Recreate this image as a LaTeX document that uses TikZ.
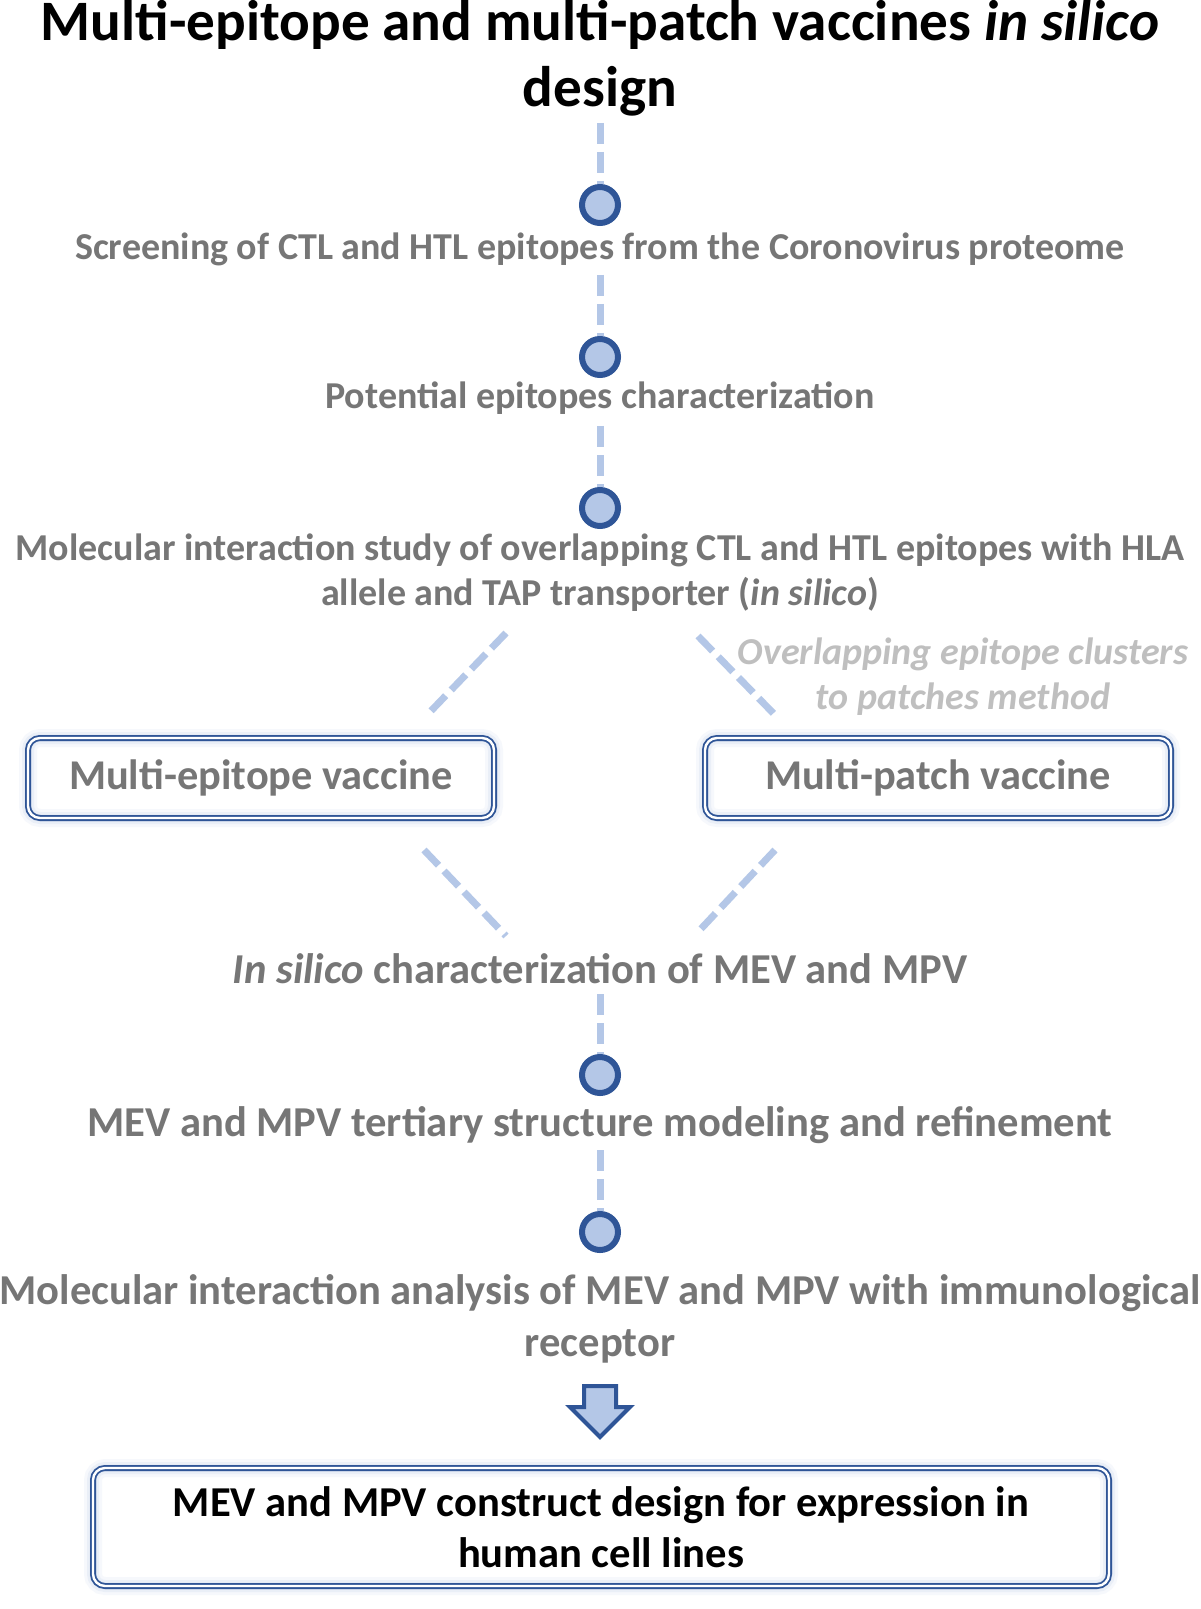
\documentclass[tikz,border=0pt]{standalone}
\usepackage{fontspec}
\setmainfont{Carlito}
\usetikzlibrary{calc}
\definecolor{dblue}{HTML}{2F5597}
\definecolor{lblue}{HTML}{B4C7E7}
\definecolor{tgray}{HTML}{767676}
\definecolor{lgray}{HTML}{BFBFBF}
\definecolor{glowc}{HTML}{C9D5EC}
\begin{document}
\begin{tikzpicture}[x=0.5pt,y=-0.5pt,
  txt/.style={text=tgray,font=\bfseries,inner sep=0pt,align=center},
  dot/.style={circle,draw=dblue,fill=lblue,line width=3pt,minimum size=18pt,inner sep=0pt},
  dashline/.style={draw=lblue,line width=3.5pt,dash pattern=on 10.5pt off 4pt},
  vbox/.style={rounded corners=6pt,draw=dblue,double=white,double distance=1.2pt,line width=0.9pt,
    inner sep=0pt,align=center,
    preaction={draw=glowc,line width=9pt,opacity=0.15},
    preaction={draw=glowc,line width=6pt,opacity=0.25},
    preaction={draw=glowc,line width=3.5pt,opacity=0.4}}]
\useasboundingbox[fill=white] (0,0) rectangle (1200,1609);

\node[inner sep=0pt,align=center,font=\fontsize{28.6pt}{33pt}\selectfont\bfseries] (title) at (600,58)
  {Multi-epitope and multi-patch vaccines \textit{in silico}\\design};

\node[dot] (c1) at (600,205) {};
\node[txt,font=\fontsize{19pt}{22pt}\selectfont\bfseries] (t1) at (600,249) {Screening of CTL and HTL epitopes from the Coronovirus proteome};
\node[dot] (c2) at (600,357) {};
\node[txt,font=\fontsize{19pt}{22pt}\selectfont\bfseries] (t2) at (600,398) {Potential epitopes characterization};
\node[dot] (c3) at (600,508) {};
\node[txt,font=\fontsize{19pt}{22.5pt}\selectfont\bfseries] (t3) at (600,573) {Molecular interaction study of overlapping CTL and HTL epitopes with HLA\\allele and TAP transporter (\textit{in silico})};

\node[inner sep=0pt,align=center,text=lgray,font=\fontsize{19pt}{22.5pt}\selectfont\bfseries\itshape] (lab) at (963,677) {Overlapping epitope clusters\\to patches method};

\node[vbox,minimum width=233pt,minimum height=40pt,text=tgray,font=\fontsize{21.2pt}{24pt}\selectfont\bfseries] (mev) at (261,778) {\raisebox{-1pt}{Multi-epitope vaccine}};
\node[vbox,minimum width=233pt,minimum height=40pt,text=tgray,font=\fontsize{21.2pt}{24pt}\selectfont\bfseries] (mpv) at (938,778) {\raisebox{-1pt}{Multi-patch vaccine}};

\node[txt,font=\fontsize{21.3pt}{24pt}\selectfont\bfseries] (t4) at (600,969) {\textit{In silico} characterization of MEV and MPV};
\node[dot] (c4) at (600,1075) {};
\node[txt,font=\fontsize{21.3pt}{24pt}\selectfont\bfseries] (t5) at (600,1125) {MEV and MPV tertiary structure modeling and refinement};
\node[dot] (c5) at (600,1232) {};
\node[txt,font=\fontsize{21.3pt}{26pt}\selectfont\bfseries] (t6) at (600,1319) {Molecular interaction analysis of MEV and MPV with immunological\\receptor};

\node[vbox,minimum width=508pt,minimum height=59pt,text=black,font=\fontsize{21.3pt}{25.5pt}\selectfont\bfseries] (fin) at (601,1527) {MEV and MPV construct design for expression in\\human cell lines};

% vertical dashed connectors
\coordinate (v1) at (600,123);
\coordinate (v2) at (600,275);
\coordinate (v3) at (600,426);
\coordinate (v4) at (600,994);
\coordinate (v5) at (600,1150);
\draw[dashline] (v1) -- (c1.north);
\draw[dashline] (v2) -- (c2.north);
\draw[dashline] (v3) -- (c3.north);
\draw[dashline] (v4) -- (c4.north);
\draw[dashline] (v5) -- (c5.north);

% diagonal dashed connectors
\coordinate (a1) at (506,633); \coordinate (a2) at (429,713);
\coordinate (b1) at (698,636); \coordinate (b2) at (775,715);
\coordinate (a3) at (424,850); \coordinate (a4) at (506,936);
\coordinate (b3) at (775,850); \coordinate (b4) at (698,932);
\draw[dashline] (a1) -- (a2);
\draw[dashline] (b1) -- (b2);
\draw[dashline] (a3) -- (a4);
\draw[dashline] (b3) -- (b4);

% block arrow
\draw[draw=dblue,fill=lblue,line width=2pt,line join=miter]
  (584,1386) -- (616,1386) -- (616,1407) -- (630,1407) -- (600,1437) -- (570,1407) -- (584,1407) -- cycle;
\end{tikzpicture}
\end{document}
